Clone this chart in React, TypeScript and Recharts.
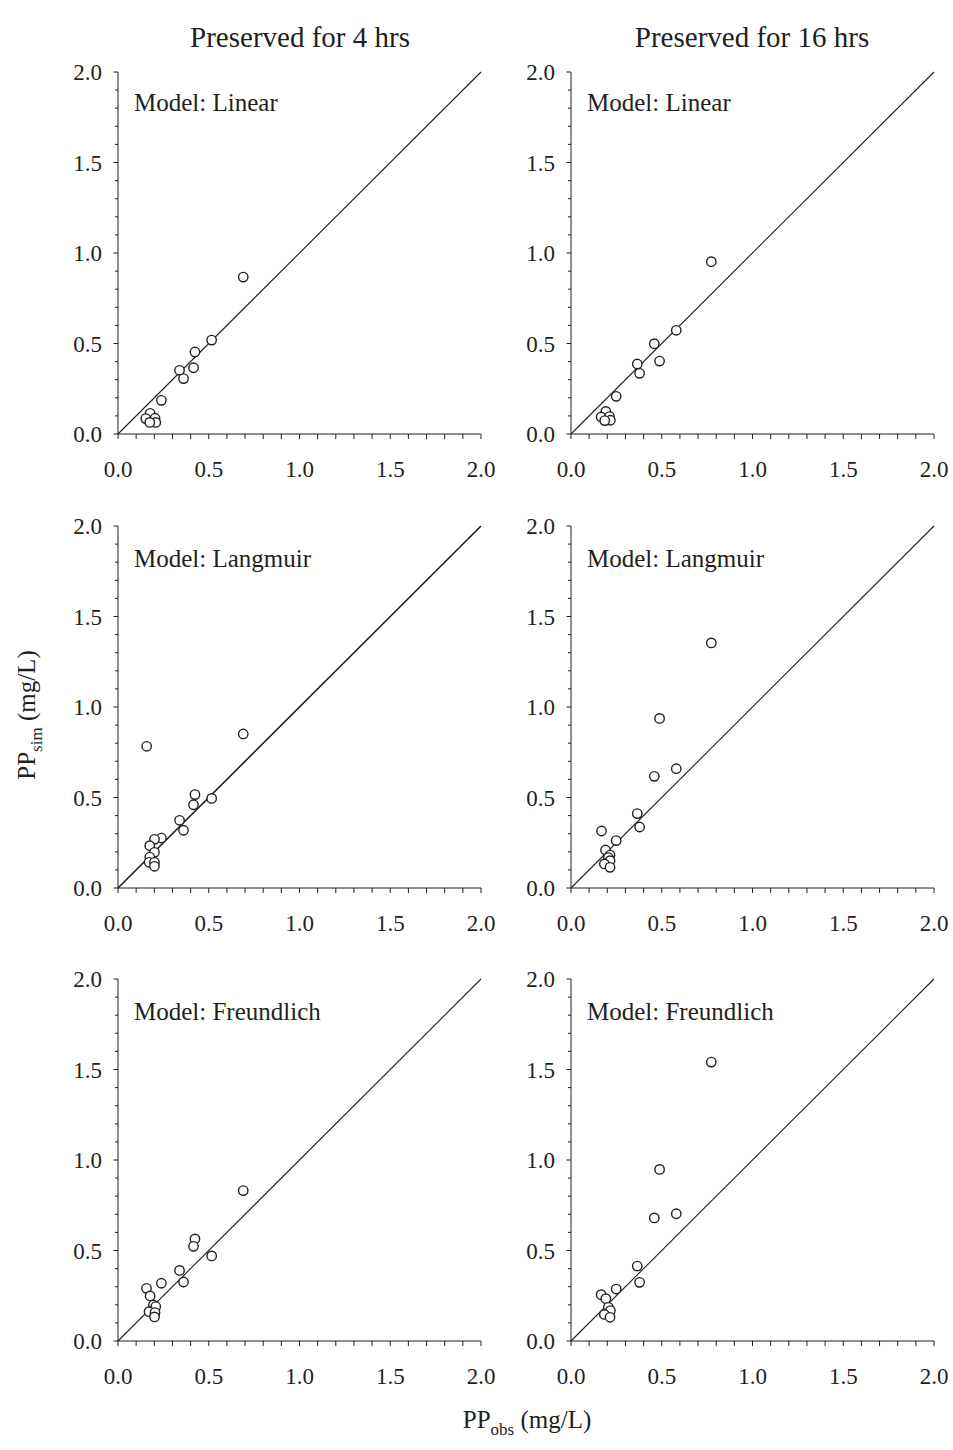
import React from "react";
import { ScatterChart, Scatter, XAxis, YAxis, ReferenceLine } from "recharts";

// axis ticks (labels only on the 0.5 steps)
const TICKS = [0, 0.1, 0.2, 0.3, 0.4, 0.5, 0.6, 0.7, 0.8, 0.9, 1.0, 1.1, 1.2, 1.3, 1.4, 1.5, 1.6, 1.7, 1.8, 1.9, 2.0];
const TICK_LABELS = ["0.0", "0.5", "1.0", "1.5", "2.0"];

const TITLES = ["Preserved for 4 hrs", "Preserved for 16 hrs"];
const MODELS = ["Model: Linear", "Model: Langmuir", "Model: Freundlich"];

// 4 hrs
const obs4Linear = [0.69, 0.516, 0.424, 0.416, 0.339, 0.361, 0.239, 0.177, 0.153, 0.204, 0.208, 0.175];
const sim4Linear = [0.867, 0.519, 0.453, 0.366, 0.352, 0.306, 0.186, 0.114, 0.085, 0.087, 0.064, 0.064];
const obs4Langmuir = [0.158, 0.69, 0.516, 0.424, 0.416, 0.339, 0.361, 0.239, 0.201, 0.175, 0.201, 0.175, 0.171, 0.201, 0.201];
const sim4Langmuir = [0.783, 0.851, 0.495, 0.516, 0.46, 0.374, 0.319, 0.276, 0.269, 0.234, 0.197, 0.171, 0.142, 0.142, 0.12];
const obs4Freundlich = [0.69, 0.424, 0.416, 0.516, 0.339, 0.361, 0.239, 0.157, 0.177, 0.195, 0.208, 0.171, 0.204, 0.201];
const sim4Freundlich = [0.831, 0.564, 0.523, 0.47, 0.39, 0.326, 0.319, 0.291, 0.249, 0.199, 0.19, 0.162, 0.157, 0.133];

// 16 hrs
const obs16Linear = [0.773, 0.58, 0.459, 0.488, 0.365, 0.378, 0.249, 0.192, 0.166, 0.212, 0.217, 0.186];
const sim16Linear = [0.952, 0.573, 0.499, 0.403, 0.387, 0.335, 0.208, 0.125, 0.094, 0.096, 0.076, 0.074];
const obs16Langmuir = [0.773, 0.488, 0.58, 0.459, 0.365, 0.378, 0.168, 0.249, 0.19, 0.215, 0.206, 0.215, 0.184, 0.215];
const sim16Langmuir = [1.354, 0.937, 0.659, 0.617, 0.411, 0.337, 0.315, 0.262, 0.21, 0.182, 0.168, 0.151, 0.133, 0.114];
const obs16Freundlich = [0.773, 0.488, 0.58, 0.459, 0.365, 0.378, 0.249, 0.166, 0.192, 0.206, 0.217, 0.184, 0.215];
const sim16Freundlich = [1.541, 0.948, 0.703, 0.68, 0.414, 0.324, 0.287, 0.256, 0.234, 0.186, 0.168, 0.147, 0.131];

const FONT = "'Liberation Serif', 'Times New Roman', serif";
const INK = "#231f20";

const PLOT_W = 363;
const PLOT_H = 362;
const COL_LEFT = [118, 571];
const ROW_TOP = [72, 526, 979];

const isMajor = (v: number) => Math.abs(v * 2 - Math.round(v * 2)) < 1e-6;
const labelFor = (v: number) => TICK_LABELS[Math.round(v * 2)];

function XTick(props: any) {
  const { x, y, payload } = props;
  const v = payload.value;
  return (
    <g>
      <line x1={x} y1={y} x2={x} y2={y + 5} stroke={INK} strokeWidth={1} />
      {isMajor(v) && (
        <text x={x} y={y + 43} textAnchor="middle" fontSize={23} fontFamily={FONT} fill={INK}>
          {labelFor(v)}
        </text>
      )}
    </g>
  );
}

function YTick(props: any) {
  const { x, y, payload } = props;
  const v = payload.value;
  const major = isMajor(v);
  return (
    <g>
      <line x1={x} y1={y} x2={x - (major ? 4.5 : 3)} y2={y} stroke={INK} strokeWidth={1} />
      {major && (
        <text x={x - 16} y={y + 8} textAnchor="end" fontSize={23} fontFamily={FONT} fill={INK}>
          {labelFor(v)}
        </text>
      )}
    </g>
  );
}

const renderCircle = (p: any) => (
  <circle cx={p.cx} cy={p.cy} r={4.7} fill="#fff" stroke={INK} strokeWidth={1.4} />
);

interface PanelProps {
  obs: number[];
  sim: number[];
  col: number;
  row: number;
  lineWidth?: number;
}

function Panel({ obs, sim, col, row, lineWidth = 1.1 }: PanelProps) {
  const data = obs.map((o, i) => ({ obs: o, sim: sim[i] }));
  const left = COL_LEFT[col] - 80;
  const top = ROW_TOP[row] - 20;
  return (
    <div style={{ position: "absolute", left, top }}>
      <ScatterChart
        width={80 + PLOT_W + 14}
        height={20 + PLOT_H + 60}
        margin={{ top: 20, right: 14, left: 0, bottom: 0 }}
      >
        <XAxis
          type="number"
          dataKey="obs"
          domain={[0, 2]}
          ticks={TICKS}
          interval={0}
          height={60}
          tickSize={0}
          tickMargin={0}
          tickLine={false}
          axisLine={{ stroke: INK, strokeWidth: 1 }}
          tick={<XTick />}
          allowDataOverflow
        />
        <YAxis
          type="number"
          dataKey="sim"
          domain={[0, 2]}
          ticks={TICKS}
          interval={0}
          width={80}
          tickSize={0}
          tickMargin={0}
          tickLine={false}
          axisLine={{ stroke: INK, strokeWidth: 1 }}
          tick={<YTick />}
          allowDataOverflow
        />
        <ReferenceLine
          segment={[{ x: 0, y: 0 }, { x: 2, y: 2 }]}
          stroke={INK}
          strokeWidth={lineWidth}
          ifOverflow="visible"
        />
        <Scatter data={data} isAnimationActive={false} shape={renderCircle} />
      </ScatterChart>
    </div>
  );
}

export default function App() {
  const modelBaselines = [111, 567, 1020];
  return (
    <div
      style={{
        position: "absolute",
        left: 0,
        top: 0,
        width: 953,
        height: 1450,
        background: "#fff",
        overflow: "hidden",
      }}
    >
      <Panel obs={obs4Linear} sim={sim4Linear} col={0} row={0} />
      <Panel obs={obs16Linear} sim={sim16Linear} col={1} row={0} />
      <Panel obs={obs4Langmuir} sim={sim4Langmuir} col={0} row={1} lineWidth={1.6} />
      <Panel obs={obs16Langmuir} sim={sim16Langmuir} col={1} row={1} />
      <Panel obs={obs4Freundlich} sim={sim4Freundlich} col={0} row={2} />
      <Panel obs={obs16Freundlich} sim={sim16Freundlich} col={1} row={2} />

      <svg
        width={953}
        height={1450}
        style={{ position: "absolute", left: 0, top: 0, pointerEvents: "none" }}
        fontFamily={FONT}
        fill={INK}
      >
        <text x={300} y={47} textAnchor="middle" fontSize={29}>{TITLES[0]}</text>
        <text x={752} y={47} textAnchor="middle" fontSize={29}>{TITLES[1]}</text>

        {MODELS.map((m, i) => (
          <React.Fragment key={m}>
            <text x={134} y={modelBaselines[i]} fontSize={25}>{m}</text>
            <text x={587} y={modelBaselines[i]} fontSize={25}>{m}</text>
          </React.Fragment>
        ))}

        <text x={527} y={1428} textAnchor="middle" fontSize={25}>
          PP
          <tspan fontSize={17} dy={7}>obs</tspan>
          <tspan dy={-7}> (mg/L)</tspan>
        </text>

        <text x={35} y={715} textAnchor="middle" fontSize={25} transform="rotate(-90 35 715)">
          PP
          <tspan fontSize={17} dy={7}>sim</tspan>
          <tspan dy={-7}> (mg/L)</tspan>
        </text>
      </svg>
    </div>
  );
}
